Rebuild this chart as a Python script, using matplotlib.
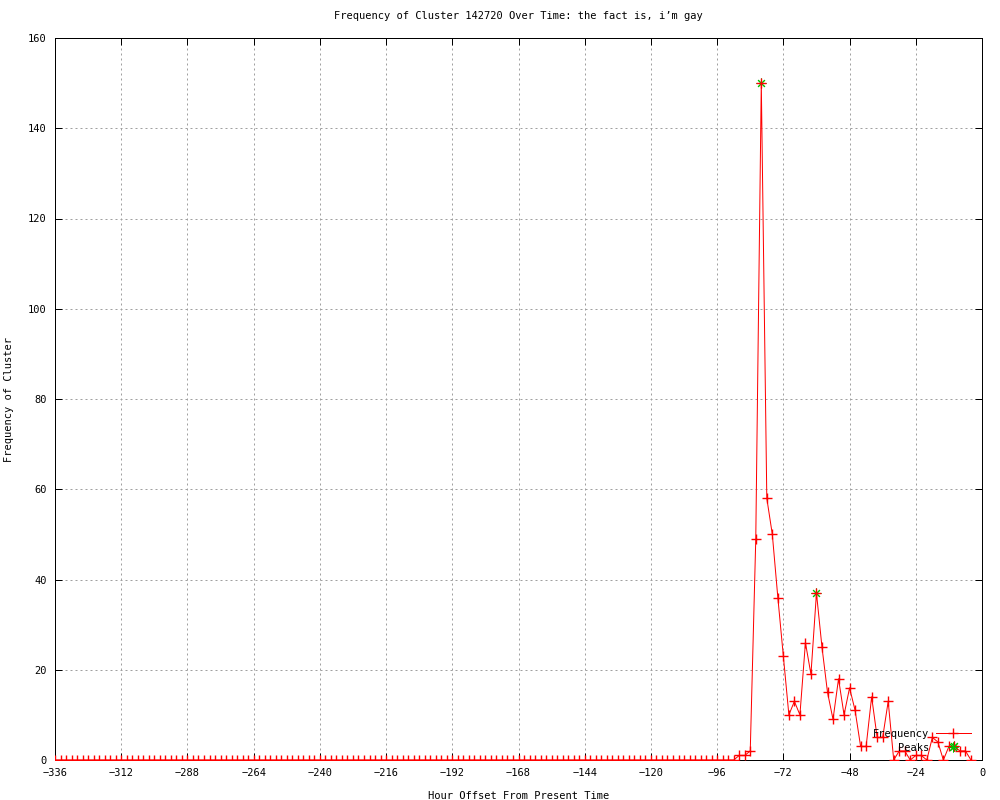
import matplotlib
matplotlib.use("Agg")
import matplotlib.pyplot as plt
import numpy as np

# hour offsets, every 2 hours from -336 up to -4
hours = np.arange(-336, -3, 2)

# frequency per 2-hour bin (all zero before -88)
quiet_bins = [0] * 124
active_bins = [1, 1, 2, 49, 150, 58, 50, 36, 23, 10, 13, 10, 26, 19, 37, 25,
               15, 9, 18, 10, 16, 11, 3, 3, 14, 5, 5, 13, 0, 2, 2, 0, 1, 1,
               0, 5, 4, 0, 3, 3, 2, 2, 0]
frequency = quiet_bins + active_bins

peak_hours = [-80, -60, -10]
peak_values = [150, 37, 3]

x_ticks = list(range(-336, 1, 24))
y_ticks = list(range(0, 161, 20))

FONT = "DejaVu Sans Mono"
plt.rcParams["font.family"] = FONT
plt.rcParams["font.size"] = 7

fig = plt.figure(figsize=(10, 8), dpi=100)
ax = fig.add_axes([0.055, 0.05, 0.927, 0.9025])

px = 0.72  # one pixel in points

ax.plot(peak_hours, peak_values, linestyle="none", marker=(8, 2, 0),
        markersize=7, markeredgewidth=px, color="#00c000", label="Peaks",
        zorder=3)
ax.plot(hours, frequency, color="red", linewidth=px, marker="+",
        markersize=6.5, markeredgewidth=1.0, label="Frequency", zorder=4)

ax.set_xlim(-336, 0)
ax.set_ylim(0, 160)
ax.set_xticks(x_ticks)
ax.set_yticks(y_ticks)
ax.set_xticklabels(["\u2212%d" % abs(t) if t < 0 else str(t) for t in x_ticks])

ax.tick_params(direction="in", length=5, width=px, top=True, right=True,
               labelsize=7.5, pad=6)
for spine in ax.spines.values():
    spine.set_linewidth(px)

ax.grid(True, color="#a0a0a0", linestyle=(0, (2, 3)), linewidth=px)
ax.set_axisbelow(True)

ax.set_title("Frequency of Cluster 142720 Over Time: the fact is, i\u2019m gay",
             fontsize=7.5, pad=14)
ax.set_xlabel("Hour Offset From Present Time", fontsize=7.5, labelpad=9)
ax.set_ylabel("Frequency of Cluster", fontsize=7.5, labelpad=10)

handles, labels = ax.get_legend_handles_labels()
ax.legend(handles[::-1], labels[::-1], loc="lower right",
          bbox_to_anchor=(0.996, 0.0), markerfirst=False, frameon=False,
          fontsize=7.5, handlelength=3.4, handletextpad=0.6, labelspacing=0.35,
          borderpad=0.2)

fig.savefig("out.png", dpi=100)
